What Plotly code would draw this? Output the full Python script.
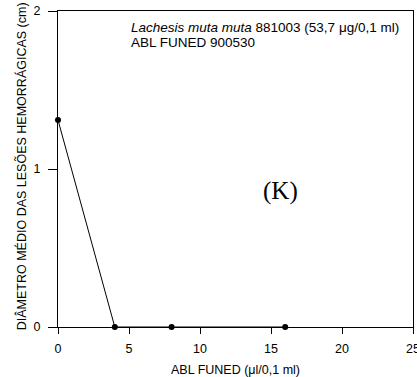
import plotly.graph_objects as go

dose = [0, 4, 8, 16]
diameter = [1.31, 0, 0, 0]
x_ticks = [0, 5, 10, 15, 20, 25]
y_ticks = [0, 1, 2]

font_family = "Arial, Liberation Sans, sans-serif"

fig = go.Figure()
fig.add_trace(go.Scatter(
    x=dose, y=diameter, mode="lines+markers",
    line=dict(color="black", width=1),
    marker=dict(color="black", size=6),
    cliponaxis=False, showlegend=False,
))

fig.update_layout(
    width=417, height=377,
    margin=dict(l=58, r=4, t=11, b=50),
    paper_bgcolor="white", plot_bgcolor="white",
    font=dict(family=font_family, size=12, color="black"),
    xaxis=dict(
        range=[0, 25], tickvals=x_ticks, ticks="outside", ticklen=6,
        tickcolor="black", showline=True, linecolor="black", linewidth=1,
        mirror=True, showgrid=False, zeroline=False, automargin=False,
        ticklabeloverflow="allow", ticklabelstandoff=4,
        tickfont=dict(size=12.5),
        title=dict(text="ABL FUNED (μl/0,1 ml)", font=dict(size=12.5), standoff=10),
    ),
    yaxis=dict(
        range=[0, 2], tickvals=y_ticks, ticks="outside", ticklen=9,
        tickcolor="black", showline=True, linecolor="black", linewidth=1,
        mirror=True, showgrid=False, zeroline=False, automargin=False,
        tickfont=dict(size=12.5), ticklabelstandoff=5,
    ),
    annotations=[
        dict(x=-0.104, y=0.509, xref="paper", yref="paper", xanchor="center", yanchor="middle",
             text="DIÂMETRO MÉDIO DAS LESÕES HEMORRÁGICAS (cm)", textangle=-90,
             showarrow=False, font=dict(size=12.5)),
        dict(x=5.0, y=1.894, xref="x", yref="y", xanchor="left", yanchor="middle",
             text="<i>Lachesis muta muta</i> 881003 (53,7 μg/0,1 ml)",
             showarrow=False, align="left", font=dict(size=13.5)),
        dict(x=5.0, y=1.803, xref="x", yref="y", xanchor="left", yanchor="middle",
             text="ABL FUNED 900530",
             showarrow=False, align="left", font=dict(size=13.5)),
        dict(x=15.7, y=0.86, xref="x", yref="y", xanchor="center", yanchor="middle",
             text="(K)", showarrow=False,
             font=dict(family="Times New Roman, Liberation Serif, serif", size=25)),
    ],
)

fig.write_html("out.html")
